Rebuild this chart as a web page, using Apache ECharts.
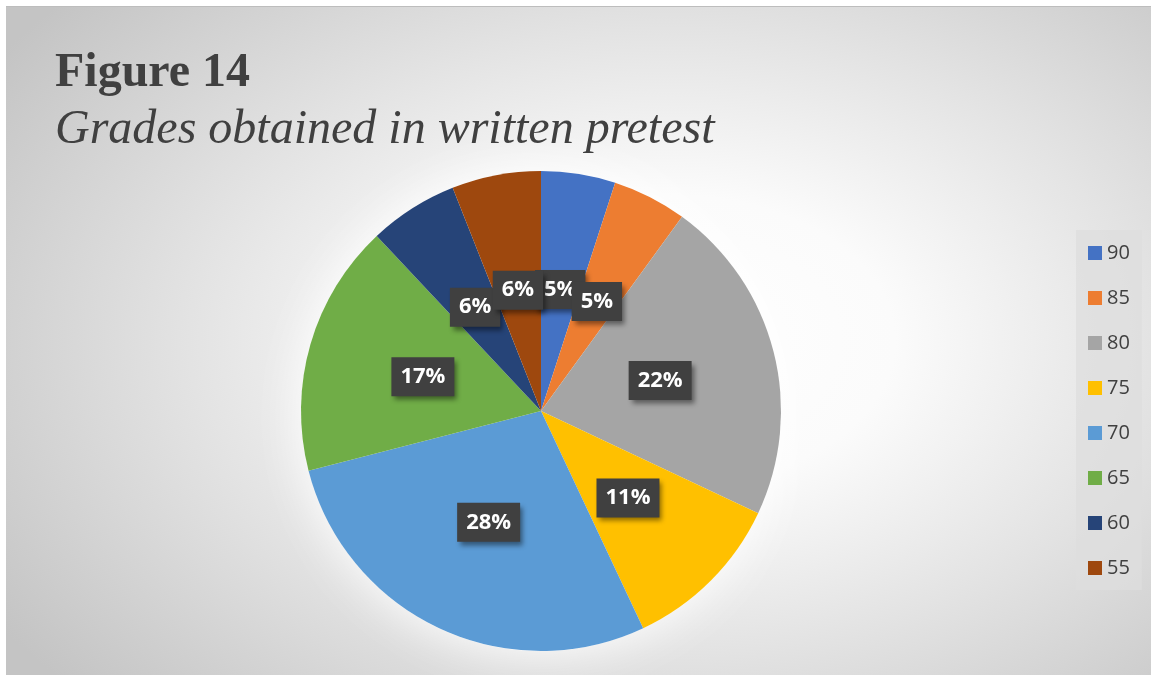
<!DOCTYPE html>
<html>
<head>
<meta charset="utf-8">
<title>Grades obtained in written pretest</title>
<script src="https://cdn.jsdelivr.net/npm/echarts@6/dist/echarts.min.js"></script>
<style>
  html, body { margin: 0; padding: 0; background: #ffffff; }
  #frame {
    position: absolute; left: 0; top: 0; width: 1151px; height: 675px; background: #ffffff;
  }
  #chart {
    position: absolute; left: 6px; top: 6px; width: 1145px; height: 669px;
    border-top: 1px solid #bdbdbd; box-sizing: border-box;
    background: radial-gradient(ellipse 70% 78% at 58% 50%, #ffffff 0%, #fbfbfb 28%, #e3e3e3 60%, #c4c4c4 100%);
  }
</style>
</head>
<body>
<div id="frame"><div id="chart"></div></div>
<script>
// Grade categories (legend order) and the share of students in each
const grades = ['90', '85', '80', '75', '70', '65', '60', '55'];
const shares = [5, 5, 22, 11, 28, 17, 6, 6];
const sliceColors = ['#4472C4', '#ED7D31', '#A5A5A5', '#FFC000', '#5B9BD5', '#70AD47', '#264478', '#9E480E'];

const chart = echarts.init(document.getElementById('chart'), null, { renderer: 'canvas' });

const pieData = grades.map((g, i) => ({
  name: g,
  value: shares[i],
  itemStyle: { color: sliceColors[i] }
}));

chart.setOption({
  backgroundColor: 'transparent',
  animation: false,
  title: [
    {
      text: 'Figure 14',
      left: 49,
      top: 43,
      padding: 0,
      textStyle: {
        fontFamily: 'Liberation Serif, Times New Roman, serif',
        fontWeight: 'bold',
        fontSize: 48,
        lineHeight: 48,
        color: '#404040'
      }
    },
    {
      text: 'Grades obtained in written pretest',
      left: 49,
      top: 99,
      padding: 0,
      textStyle: {
        fontFamily: 'Liberation Serif, Times New Roman, serif',
        fontStyle: 'italic',
        fontWeight: 'normal',
        fontSize: 48,
        lineHeight: 48,
        color: '#404040'
      }
    }
  ],
  legend: {
    orient: 'vertical',
    left: 1070,
    top: 223,
    padding: [13, 12, 12, 12],
    backgroundColor: 'rgba(222,222,222,0.75)',
    itemWidth: 14,
    itemHeight: 14,
    itemGap: 25,
    icon: 'rect',
    data: grades,
    selectedMode: false,
    textStyle: {
      fontFamily: 'Open Sans, Noto Sans, sans-serif',
      fontSize: 20,
      lineHeight: 20,
      color: '#404040'
    }
  },
  series: [
    {
      // soft white halo behind the pie
      type: 'pie',
      silent: true,
      center: [535, 404],
      radius: 240,
      z: 1,
      label: { show: false },
      labelLine: { show: false },
      data: [{ value: 1, name: '', itemStyle: { color: '#ffffff', shadowBlur: 50, shadowColor: 'rgba(255,255,255,1)' } }],
      legendHoverLink: false
    },
    {
      type: 'pie',
      center: [535, 404],
      radius: 240,
      startAngle: 90,
      clockwise: true,
      z: 2,
      avoidLabelOverlap: false,
      labelLayout: { hideOverlap: false },
      itemStyle: { borderWidth: 0 },
      label: {
        show: true,
        position: 'inside',
        formatter: p => p.value + '%',
        fontFamily: 'Open Sans, Noto Sans, sans-serif',
        fontWeight: 'bold',
        fontSize: 22,
        lineHeight: 22,
        color: '#ffffff',
        backgroundColor: '#404040',
        padding: [9, 9, 8, 9],
        shadowColor: 'rgba(0,0,0,0.45)',
        shadowBlur: 5,
        shadowOffsetX: 3,
        shadowOffsetY: 4
      },
      labelLine: { show: false },
      emphasis: { disabled: true },
      data: pieData
    }
  ]
});
</script>
</body>
</html>
